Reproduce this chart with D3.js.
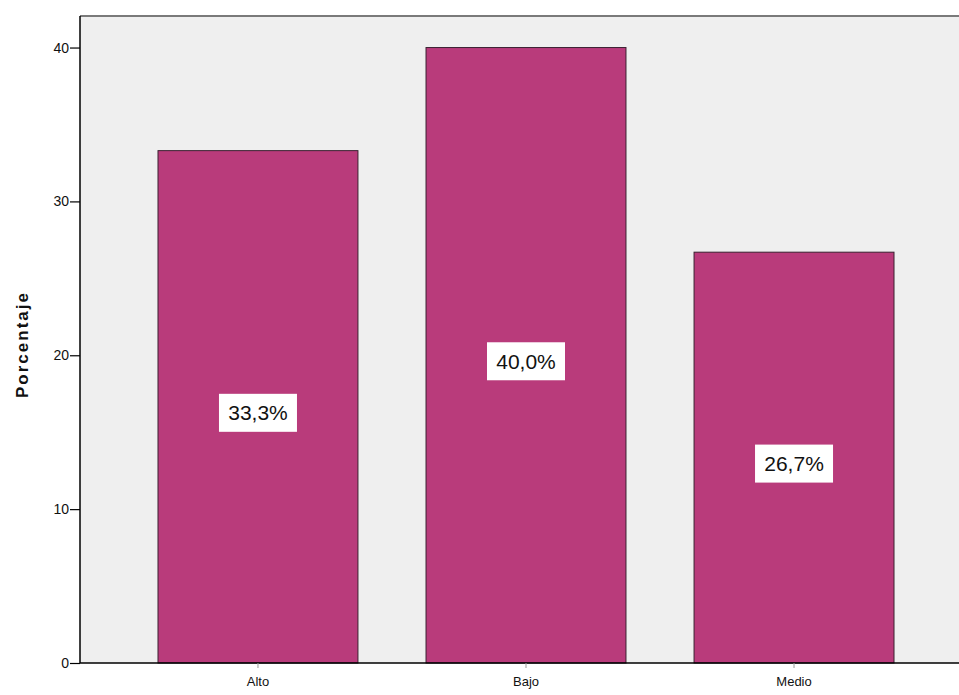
<!DOCTYPE html>
<html><head><meta charset="utf-8">
<script src="https://cdn.jsdelivr.net/npm/d3@7"></script>
<style>body{margin:0;background:#fff;}svg{display:block;}</style>
</head><body>
<script>
const categories = ["Alto", "Bajo", "Medio"];
const values = [33.3, 40.0, 26.7];
const valueLabels = ["33,3%", "40,0%", "26,7%"];
const yTicks = [0, 10, 20, 30, 40];
const yTitle = "Porcentaje";

(function () {
const W = 959, H = 695;
const pL = 80, pR = 972, pT = 16, pB = 663;

const svg = d3.select("body").append("svg").attr("width", W).attr("height", H);

const x = d3.scaleBand().domain(categories).range([pL, pR]).paddingInner(0.254).paddingOuter(0.291);
const y = d3.scaleLinear().domain([0, 42.05]).range([pB, pT]);

svg.append("rect").attr("x", pL).attr("y", pT).attr("width", pR - pL).attr("height", pB - pT)
  .attr("fill", "#efefef");
svg.append("line").attr("x1", pL).attr("x2", W).attr("y1", pT).attr("y2", pT)
  .attr("stroke", "#7a7a7a").attr("stroke-width", 2);

svg.selectAll("rect.bar").data(values).enter().append("rect").attr("class", "bar")
  .attr("x", (d, i) => x(categories[i]))
  .attr("y", d => y(d))
  .attr("width", x.bandwidth())
  .attr("height", d => pB - y(d))
  .attr("fill", "#b93b7b")
  .attr("stroke", "#3a2030").attr("stroke-width", 1);

const lg = svg.selectAll("g.lbl").data(values).enter().append("g").attr("class", "lbl")
  .attr("transform", (d, i) => `translate(${x(categories[i]) + x.bandwidth() / 2},${(y(d) + pB) / 2 + 6})`);
lg.append("rect").attr("x", -39).attr("y", -19).attr("width", 78).attr("height", 38).attr("fill", "#ffffff");
lg.append("text").text((d, i) => valueLabels[i])
  .attr("text-anchor", "middle").attr("dy", "0.36em")
  .attr("font-family", "Liberation Sans, Arial, sans-serif").attr("font-size", 21).attr("fill", "#111");

const yAxis = d3.axisLeft(y).tickValues(yTicks).tickSize(10).tickFormat(d3.format("d"));
const ya = svg.append("g").attr("transform", `translate(${pL},0)`).call(yAxis);
ya.select(".domain").attr("stroke", "#000").attr("stroke-width", 1.5).attr("d", `M0,${pB}V${pT}`);
ya.selectAll(".tick line").attr("stroke", "#000").attr("stroke-width", 1.2);
ya.selectAll(".tick text").attr("font-family", "Liberation Sans, Arial, sans-serif").attr("font-size", 14)
  .attr("fill", "#111").attr("x", -11);

const xAxis = d3.axisBottom(x).tickSize(5).tickSizeOuter(0);
const xa = svg.append("g").attr("transform", `translate(0,${pB})`).call(xAxis);
xa.select(".domain").attr("stroke", "#000").attr("stroke-width", 1.5).attr("d", `M${pL},0H${W}`);
xa.selectAll(".tick line").attr("stroke", "#999").attr("stroke-width", 1);
xa.selectAll(".tick text").attr("font-family", "Liberation Sans, Arial, sans-serif").attr("font-size", 13)
  .attr("fill", "#111").attr("y", 14);

svg.append("text").text(yTitle)
  .attr("transform", `translate(28,${(pT + pB) / 2 + 5}) rotate(-90)`)
  .attr("text-anchor", "middle")
  .attr("font-family", "Liberation Sans, Arial, sans-serif").attr("font-size", 17).attr("font-weight", "bold")
  .attr("letter-spacing", 2)
  .attr("fill", "#111");
})();
</script>
</body></html>
